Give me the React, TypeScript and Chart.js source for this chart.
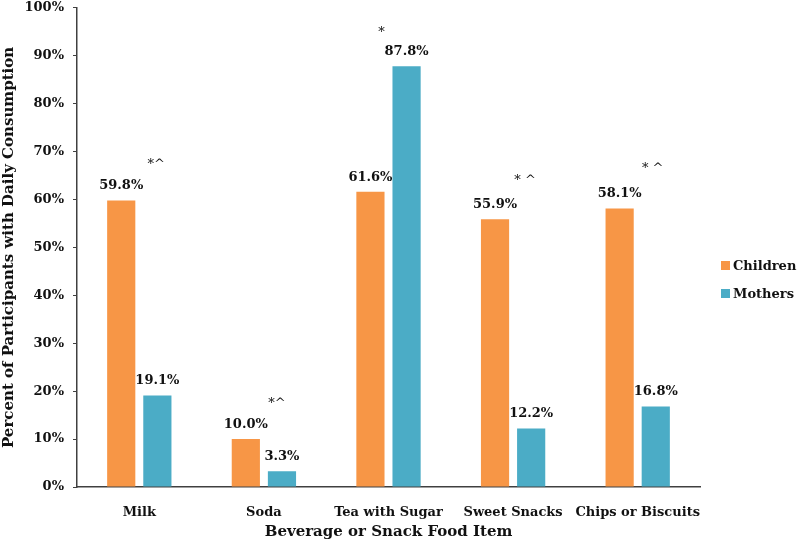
import React, { useEffect, useRef } from "react";
import Chart from "chart.js/auto";

// Chart data
const categories = ["Milk", "Soda", "Tea with Sugar", "Sweet Snacks", "Chips or Biscuits"];
const childrenValues = [59.8, 10.0, 61.6, 55.9, 58.1];
const motherValues = [19.1, 3.3, 87.8, 12.2, 16.8];
const seriesLabels = ["Children", "Mothers"];
const seriesColors = ["#F79646", "#4BACC6"];
// significance marks above each pair and the level (in %) they sit at
const significanceMarks = ["*^", "*^", "*", "* ^", "* ^"];
const markLevels = [67.3, 17.5, 94.8, 64.0, 66.5];

const FONT = "'DejaVu Serif', serif";

const barLabelPlugin = {
    id: "barLabels",
    afterDatasetsDraw(chart: any) {
        const ctx = chart.ctx;
        ctx.save();
        ctx.font = `bold 13px ${FONT}`;
        ctx.fillStyle = "#111";
        ctx.textAlign = "center";
        ctx.textBaseline = "bottom";
        chart.data.datasets.forEach((ds: any, i: number) => {
            const meta = chart.getDatasetMeta(i);
            meta.data.forEach((bar: any, j: number) => {
                ctx.fillText(`${Number(ds.data[j]).toFixed(1)}%`, bar.x, bar.y - 8);
            });
        });
        ctx.restore();
    },
};

const marksPlugin = {
    id: "sigMarks",
    afterDatasetsDraw(chart: any) {
        const ctx = chart.ctx;
        const xs = chart.scales.x;
        const ys = chart.scales.y;
        const shift = [17, 13, -7, 12, 15];
        ctx.save();
        ctx.font = `13px ${FONT}`;
        ctx.fillStyle = "#111";
        ctx.textAlign = "center";
        ctx.textBaseline = "middle";
        significanceMarks.forEach((m, j) => {
            ctx.fillText(m, xs.getPixelForValue(j) + shift[j], ys.getPixelForValue(markLevels[j]));
        });
        ctx.restore();
    },
};

const App: React.FC = () => {
    const canvasRef = useRef<HTMLCanvasElement | null>(null);
    const chartInstance = useRef<Chart | null>(null);

    useEffect(() => {
        document.body.style.margin = "0";
        if (!canvasRef.current) return;
        if (chartInstance.current) chartInstance.current.destroy();

        chartInstance.current = new Chart(canvasRef.current, {
            type: "bar",
            data: {
                labels: categories,
                datasets: [
                    {
                        label: seriesLabels[0],
                        data: childrenValues,
                        backgroundColor: seriesColors[0],
                        barPercentage: 0.78,
                        categoryPercentage: 0.58,
                    },
                    {
                        label: seriesLabels[1],
                        data: motherValues,
                        backgroundColor: seriesColors[1],
                        barPercentage: 0.78,
                        categoryPercentage: 0.58,
                    },
                ],
            },
            options: {
                responsive: true,
                maintainAspectRatio: false,
                animation: false,
                layout: { padding: { top: 0, right: 97, left: 0, bottom: 0 } },
                plugins: {
                    legend: { display: false },
                    tooltip: { enabled: false },
                },
                scales: {
                    x: {
                        grid: { display: false, drawTicks: false },
                        border: { display: true, color: "#404040", width: 1.5 },
                        ticks: {
                            color: "#111",
                            font: { family: FONT, weight: "bold", size: 13 },
                            padding: 18,
                            maxRotation: 0,
                            minRotation: 0,
                            autoSkip: false,
                        },
                        title: {
                            display: true,
                            text: "Beverage or Snack Food Item",
                            color: "#111",
                            font: { family: FONT, weight: "bold", size: 15 },
                            padding: { top: 2, bottom: 0 },
                        },
                        afterFit(scale: any) {
                            scale.height = 54;
                        },
                    },
                    y: {
                        min: 0,
                        max: 100,
                        ticks: {
                            stepSize: 10,
                            color: "#111",
                            font: { family: FONT, weight: "bold", size: 13 },
                            padding: 9,
                            callback: (v: any) => `${v}%`,
                        },
                        grid: {
                            display: true,
                            drawOnChartArea: false,
                            drawTicks: true,
                            tickLength: 4,
                            color: "#404040",
                        },
                        border: { display: true, color: "#404040", width: 1.5 },
                        title: {
                            display: true,
                            text: "Percent of Participants with Daily Consumption",
                            color: "#111",
                            font: { family: FONT, weight: "bold", size: 15 },
                            padding: { top: 0, bottom: 0 },
                        },
                        afterFit(scale: any) {
                            scale.width = 77;
                        },
                    },
                },
            },
            plugins: [barLabelPlugin, marksPlugin],
        });

        return () => {
            if (chartInstance.current) {
                chartInstance.current.destroy();
                chartInstance.current = null;
            }
        };
    }, []);

    return (
        <div style={{ position: "relative", width: 797, height: 541, overflow: "hidden" }}>
            <div style={{ position: "absolute", left: 0, top: -9, width: 797, height: 550 }}>
                <canvas ref={canvasRef} />
            </div>
            <div style={{ position: "absolute", left: 721, top: 251, fontFamily: FONT, fontWeight: "bold", fontSize: 13, color: "#111" }}>
                {seriesLabels.map((name, i) => (
                    <div key={name} style={{ display: "flex", alignItems: "center", height: 28 }}>
                        <span style={{ display: "inline-block", width: 9, height: 9, background: seriesColors[i], marginRight: 3 }} />
                        {name}
                    </div>
                ))}
            </div>
        </div>
    );
};

export default App;
